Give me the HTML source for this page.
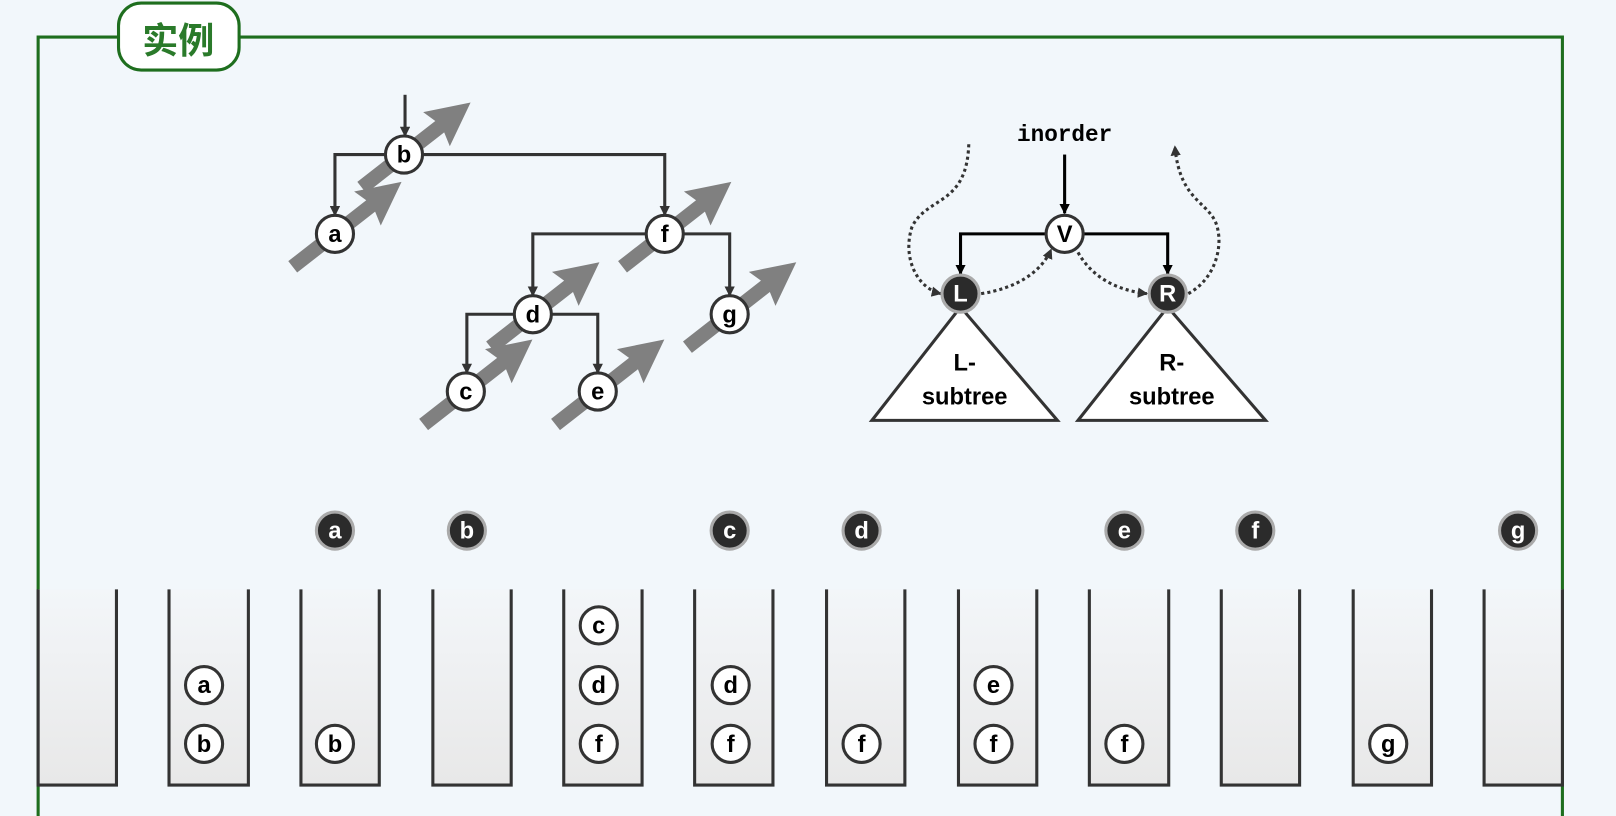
<!DOCTYPE html>
<html><head><meta charset="utf-8"><style>
html,body{margin:0;padding:0;background:#f2f7fb;}
svg{display:block;}
.n{fill:#fff;stroke:#333;stroke-width:3;}
.dk{fill:#2b2b2b;stroke:#aaa;stroke-width:3;}
.t{font-family:"Liberation Sans",sans-serif;font-weight:bold;font-size:23px;text-anchor:middle;dominant-baseline:central;}
.tw{fill:#fff;}
.e{fill:none;stroke:#333;stroke-width:3;}
.ga{fill:#808080;}
</style></head><body>
<svg width="1616" height="816" viewBox="0 0 1568 792" preserveAspectRatio="none" xmlns="http://www.w3.org/2000/svg">
<defs>
<marker id="ah" markerWidth="10" markerHeight="10" refX="9" refY="5" orient="auto" markerUnits="userSpaceOnUse"><path d="M0,0 L10,5 L0,10 z" fill="#333"/></marker>
<marker id="ak" markerWidth="10" markerHeight="10" refX="9" refY="5" orient="auto" markerUnits="userSpaceOnUse"><path d="M0,0 L10,5 L0,10 z" fill="#000"/></marker>
<marker id="ad" markerWidth="10" markerHeight="10" refX="9" refY="5" orient="auto" markerUnits="userSpaceOnUse"><path d="M0,0 L10,5 L0,10 z" fill="#333"/></marker>
<linearGradient id="gr" x1="0" y1="0" x2="0" y2="1"><stop offset="0" stop-color="#f3f6f9"/><stop offset="1" stop-color="#e8e8e8"/></linearGradient>
<g id="bigarrow"><path transform="rotate(-38)" d="M-52,-7 L44,-7 L40,-21 L82,0 L40,21 L44,7 L-52,7 Z"/></g>
</defs>
<rect width="1568" height="792" fill="#f2f7fb"/>
<path d="M37,800 L37,36 L1516,36 L1516,800" fill="none" stroke="#1e6e1e" stroke-width="3"/>
<rect x="115" y="3" width="117" height="65" rx="22" fill="#fff" stroke="#1e6e1e" stroke-width="3"/>
<text x="173" y="37" font-family="'Noto Sans CJK SC',sans-serif" font-weight="bold" font-size="35" fill="#2a7a2a" text-anchor="middle" dominant-baseline="central">实例</text>

<g class="ga">
<use href="#bigarrow" transform="translate(392,150)"/>
<use href="#bigarrow" transform="translate(325,227)"/>
<use href="#bigarrow" transform="translate(645,227)"/>
<use href="#bigarrow" transform="translate(517,305)"/>
<use href="#bigarrow" transform="translate(708,305)"/>
<use href="#bigarrow" transform="translate(452,380)"/>
<use href="#bigarrow" transform="translate(580,380)"/>
</g>
<path class="e" d="M393,92 V132" marker-end="url(#ah)"/>
<path class="e" d="M392,150 H325 V209" marker-end="url(#ah)"/>
<path class="e" d="M392,150 H645 V209" marker-end="url(#ah)"/>
<path class="e" d="M645,227 H517 V287" marker-end="url(#ah)"/>
<path class="e" d="M645,227 H708 V287" marker-end="url(#ah)"/>
<path class="e" d="M517,305 H453 V362" marker-end="url(#ah)"/>
<path class="e" d="M517,305 H580 V362" marker-end="url(#ah)"/>
<g>
<circle class="n" cx="392" cy="150" r="18"/><text class="t" x="392" y="151">b</text>
<circle class="n" cx="325" cy="227" r="18"/><text class="t" x="325" y="228">a</text>
<circle class="n" cx="645" cy="227" r="18"/><text class="t" x="645" y="228">f</text>
<circle class="n" cx="517" cy="305" r="18"/><text class="t" x="517" y="306">d</text>
<circle class="n" cx="708" cy="305" r="18"/><text class="t" x="708" y="306">g</text>
<circle class="n" cx="452" cy="380" r="18"/><text class="t" x="452" y="381">c</text>
<circle class="n" cx="580" cy="380" r="18"/><text class="t" x="580" y="381">e</text>
</g>

<text x="1033" y="131" font-family="'Liberation Mono',monospace" font-weight="bold" font-size="22" text-anchor="middle" dominant-baseline="central">inorder</text>
<path d="M1033,150 V207" stroke="#000" stroke-width="3" fill="none" marker-end="url(#ak)"/>
<path d="M1033,227 H932 V266" stroke="#000" stroke-width="3" fill="none" marker-end="url(#ak)"/>
<path d="M1033,227 H1133 V266" stroke="#000" stroke-width="3" fill="none" marker-end="url(#ak)"/>
<polygon points="932,298 846,408 1026,408" fill="#fff" stroke="#333" stroke-width="3"/>
<polygon points="1133,298 1046,408 1228,408" fill="#fff" stroke="#333" stroke-width="3"/>
<text class="t" x="936" y="353" font-size="20">L-</text>
<text class="t" x="936" y="386" font-size="20">subtree</text>
<text class="t" x="1137" y="353" font-size="20">R-</text>
<text class="t" x="1137" y="386" font-size="20">subtree</text>
<g fill="none" stroke="#333" stroke-width="3" stroke-dasharray="3,3">
<path d="M940,140 C938,200 900,190 885,220 C875,250 890,280 913,285" marker-end="url(#ad)"/>
<path d="M952,285 C985,280 1010,265 1020,242" marker-end="url(#ad)"/>
<path d="M1046,245 C1060,270 1085,282 1113,285" marker-end="url(#ad)"/>
<path d="M1153,285 C1180,270 1185,240 1182,225 C1178,195 1145,200 1140,142" marker-end="url(#ad)"/>
</g>
<circle cx="1033" cy="227" r="18" fill="#fff" stroke="#333" stroke-width="3"/><text class="t" x="1033" y="228">V</text>
<circle class="dk" cx="932" cy="285" r="18"/><text class="t tw" x="932" y="286" font-size="20">L</text>
<circle class="dk" cx="1133" cy="285" r="18"/><text class="t tw" x="1133" y="286" font-size="20">R</text>

<g fill="url(#gr)" stroke="#333" stroke-width="3">
<path d="M37,572 V762 H113 V572"/>
<path d="M164,572 V762 H241 V572"/>
<path d="M292,572 V762 H368 V572"/>
<path d="M420,572 V762 H496 V572"/>
<path d="M547,572 V762 H623 V572"/>
<path d="M674,572 V762 H750 V572"/>
<path d="M802,572 V762 H878 V572"/>
<path d="M930,572 V762 H1006 V572"/>
<path d="M1057,572 V762 H1134 V572"/>
<path d="M1185,572 V762 H1261 V572"/>
<path d="M1313,572 V762 H1389 V572"/>
<path d="M1440,572 V762 H1516 V572"/>
</g>
<g>
<circle class="n" cx="198" cy="665" r="18"/><text class="t" x="198" y="666">a</text>
<circle class="n" cx="198" cy="722" r="18"/><text class="t" x="198" y="723">b</text>
<circle class="n" cx="325" cy="722" r="18"/><text class="t" x="325" y="723">b</text>
<circle class="n" cx="581" cy="607" r="18"/><text class="t" x="581" y="608">c</text>
<circle class="n" cx="581" cy="665" r="18"/><text class="t" x="581" y="666">d</text>
<circle class="n" cx="581" cy="722" r="18"/><text class="t" x="581" y="723">f</text>
<circle class="n" cx="709" cy="665" r="18"/><text class="t" x="709" y="666">d</text>
<circle class="n" cx="709" cy="722" r="18"/><text class="t" x="709" y="723">f</text>
<circle class="n" cx="836" cy="722" r="18"/><text class="t" x="836" y="723">f</text>
<circle class="n" cx="964" cy="665" r="18"/><text class="t" x="964" y="666">e</text>
<circle class="n" cx="964" cy="722" r="18"/><text class="t" x="964" y="723">f</text>
<circle class="n" cx="1091" cy="722" r="18"/><text class="t" x="1091" y="723">f</text>
<circle class="n" cx="1347" cy="722" r="18"/><text class="t" x="1347" y="723">g</text>
</g>
<g>
<circle class="dk" cx="325" cy="515" r="18"/><text class="t tw" x="325" y="516">a</text>
<circle class="dk" cx="453" cy="515" r="18"/><text class="t tw" x="453" y="516">b</text>
<circle class="dk" cx="708" cy="515" r="18"/><text class="t tw" x="708" y="516">c</text>
<circle class="dk" cx="836" cy="515" r="18"/><text class="t tw" x="836" y="516">d</text>
<circle class="dk" cx="1091" cy="515" r="18"/><text class="t tw" x="1091" y="516">e</text>
<circle class="dk" cx="1218" cy="515" r="18"/><text class="t tw" x="1218" y="516">f</text>
<circle class="dk" cx="1473" cy="515" r="18"/><text class="t tw" x="1473" y="516">g</text>
</g>
</svg>
</body></html>
